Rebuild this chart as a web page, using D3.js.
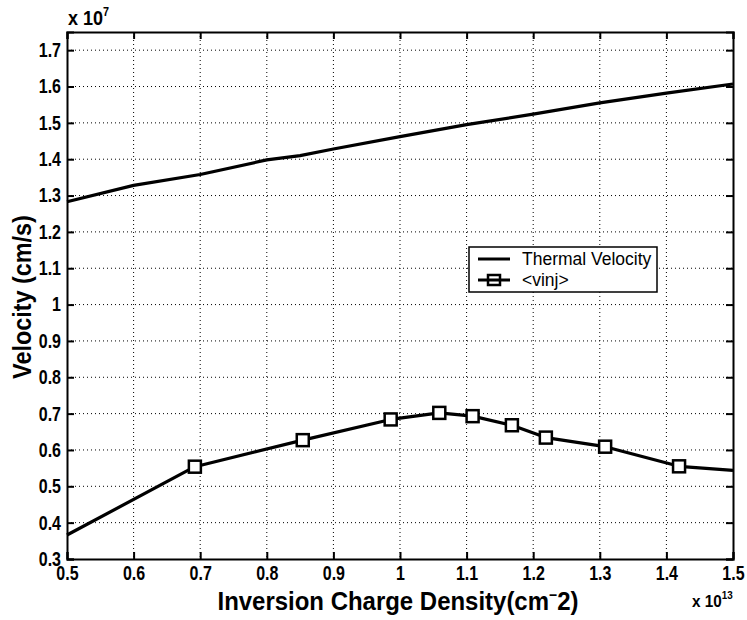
<!DOCTYPE html>
<html>
<head>
<meta charset="utf-8">
<script src="https://cdn.jsdelivr.net/npm/d3@7"></script>
<style>
  body { margin: 0; background: #fff; }
  text { font-family: "Liberation Sans", Arial, Helvetica, sans-serif; font-weight: bold; fill: #000; }
</style>
</head>
<body>
<div id="chart"></div>
<script>
// Data (x in 1e13 cm^-2, velocity in 1e7 cm/s)
const thermalX = [0.5, 0.6, 0.7, 0.8, 0.85, 0.9, 1.0, 1.1, 1.2, 1.3, 1.4, 1.5];
const thermalV = [1.283, 1.328, 1.358, 1.398, 1.41, 1.428, 1.462, 1.495, 1.524, 1.555, 1.582, 1.607];

const vinjX = [0.5, 0.692, 0.854, 0.986, 1.059, 1.109, 1.168, 1.219, 1.308, 1.419, 1.5];
const vinjV = [0.366, 0.554, 0.627, 0.684, 0.702, 0.693, 0.668, 0.634, 0.609, 0.555, 0.544];
const vinjMarker = [false, true, true, true, true, true, true, true, true, true, false];

const xTicks = [0.5, 0.6, 0.7, 0.8, 0.9, 1.0, 1.1, 1.2, 1.3, 1.4, 1.5];
const xTickLabels = ['0.5', '0.6', '0.7', '0.8', '0.9', '1', '1.1', '1.2', '1.3', '1.4', '1.5'];
const yTicks = [0.3, 0.4, 0.5, 0.6, 0.7, 0.8, 0.9, 1.0, 1.1, 1.2, 1.3, 1.4, 1.5, 1.6, 1.7];
const yTickLabels = ['0.3', '0.4', '0.5', '0.6', '0.7', '0.8', '0.9', '1', '1.1', '1.2', '1.3', '1.4', '1.5', '1.6', '1.7'];
const legendLabels = ['Thermal Velocity', '<vinj>'];

const width = 747, height = 620;
const plotLeft = 67, plotRight = 733, plotTop = 32, plotBottom = 559;

const svg = d3.select('#chart')
    .append('svg')
    .attr('width', width)
    .attr('height', height);

const x = d3.scaleLinear().domain([0.5, 1.5]).range([plotLeft, plotRight]);
const y = d3.scaleLinear().domain([0.3, 1.75]).range([plotBottom, plotTop]);

// dotted grid
const grid = svg.append('g')
    .attr('stroke', '#000')
    .attr('stroke-width', 1)
    .attr('stroke-dasharray', '1,3');
grid.selectAll('.gx')
    .data(xTicks.slice(1, -1))
    .enter().append('line')
    .attr('x1', d => x(d)).attr('x2', d => x(d))
    .attr('y1', plotTop).attr('y2', plotBottom);
grid.selectAll('.gy')
    .data(yTicks.slice(1))
    .enter().append('line')
    .attr('x1', plotLeft).attr('x2', plotRight)
    .attr('y1', d => y(d)).attr('y2', d => y(d));

// axes, ticks inward on all four sides
const sx = 0.8;
const xAxis = svg.append('g')
    .attr('transform', `translate(0,${plotBottom})`)
    .call(d3.axisBottom(x).tickValues(xTicks).tickFormat((d, i) => xTickLabels[i])
        .tickSize(-7).tickPadding(7));
xAxis.selectAll('text').attr('font-size', 20).attr('transform', `scale(${sx},1)`);

const yAxis = svg.append('g')
    .attr('transform', `translate(${plotLeft},0)`)
    .call(d3.axisLeft(y).tickValues(yTicks).tickFormat((d, i) => yTickLabels[i])
        .tickSize(-7).tickPadding(7.5));
yAxis.selectAll('text').attr('font-size', 20).attr('transform', `scale(${sx},1)`);

svg.append('g')
    .attr('transform', `translate(0,${plotTop})`)
    .call(d3.axisTop(x).tickValues(xTicks).tickFormat('').tickSize(-7));
svg.append('g')
    .attr('transform', `translate(${plotRight},0)`)
    .call(d3.axisRight(y).tickValues(yTicks).tickFormat('').tickSize(-7));

svg.selectAll('.domain').attr('stroke', '#000').attr('stroke-width', 2);
svg.selectAll('.tick line').attr('stroke', '#000').attr('stroke-width', 2);

// curves
const line = d3.line().x(d => x(d[0])).y(d => y(d[1]));

svg.append('path')
    .datum(thermalX.map((d, i) => [d, thermalV[i]]))
    .attr('d', line)
    .attr('fill', 'none')
    .attr('stroke', '#000')
    .attr('stroke-width', 3.2)
    .attr('stroke-linejoin', 'round');

const vinj = vinjX.map((d, i) => [d, vinjV[i], vinjMarker[i]]);
svg.append('path')
    .datum(vinj)
    .attr('d', line)
    .attr('fill', 'none')
    .attr('stroke', '#000')
    .attr('stroke-width', 3.2)
    .attr('stroke-linejoin', 'round');

const ms = 12;
svg.selectAll('.marker')
    .data(vinj.filter(d => d[2]))
    .enter().append('rect')
    .attr('x', d => x(d[0]) - ms / 2)
    .attr('y', d => y(d[1]) - ms / 2)
    .attr('width', ms).attr('height', ms)
    .attr('fill', '#fff')
    .attr('stroke', '#000')
    .attr('stroke-width', 2.5);

// legend
const lg = svg.append('g').attr('transform', 'translate(469,247)');
lg.append('rect')
    .attr('width', 188).attr('height', 45)
    .attr('fill', '#fff').attr('stroke', '#000').attr('stroke-width', 1.5);
legendLabels.forEach((label, i) => {
    const ly = 12 + i * 21;
    lg.append('line')
        .attr('x1', 9).attr('x2', 41).attr('y1', ly).attr('y2', ly)
        .attr('stroke', '#000').attr('stroke-width', 3);
    if (i === 1) {
        lg.append('rect')
            .attr('x', 25 - ms / 2).attr('y', ly - ms / 2 + 1)
            .attr('width', ms).attr('height', ms - 2)
            .attr('fill', 'none').attr('stroke', '#000').attr('stroke-width', 2.5);
    }
    lg.append('text')
        .attr('transform', `translate(53,${ly + 6})`)
        .style('font-size', '17.5px')
        .style('font-weight', 'normal')
        .text(label);
});

// axis labels
const xl = svg.append('text')
    .attr('transform', `translate(398,610) scale(0.94,1)`)
    .attr('text-anchor', 'middle')
    .attr('font-size', 25.5);
xl.append('tspan').text('Inversion Charge Density(cm');
xl.append('tspan').attr('dy', -10).attr('font-size', 15).text('\u2212');
xl.append('tspan').attr('dy', 10).text('2)');

svg.append('text')
    .attr('transform', 'translate(31,297) rotate(-90) scale(0.9,1)')
    .attr('text-anchor', 'middle')
    .attr('font-size', 26)
    .text('Velocity (cm/s)');

// exponent labels
const ey = svg.append('text')
    .attr('transform', 'translate(68,25) scale(0.9,1)')
    .attr('font-size', 20);
ey.append('tspan').text('x 10');
ey.append('tspan').attr('dy', -9).attr('font-size', 12).text('7');

const ex = svg.append('text')
    .attr('transform', 'translate(692,607) scale(0.9,1)')
    .attr('font-size', 17);
ex.append('tspan').text('x 10');
ex.append('tspan').attr('dy', -8).attr('font-size', 11).text('13');
</script>
</body>
</html>
